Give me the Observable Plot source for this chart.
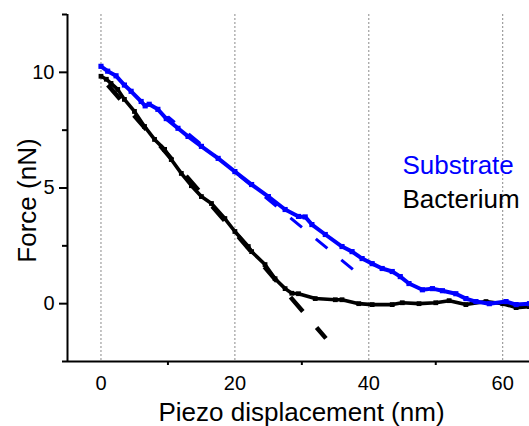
<!DOCTYPE html>
<html>
<head>
<meta charset="utf-8">
<script src="https://cdn.jsdelivr.net/npm/d3@7"></script>
<script src="https://cdn.jsdelivr.net/npm/@observablehq/plot@0.6"></script>
<style>
  html, body { margin: 0; padding: 0; background: #fff; }
  svg { display: block; }
</style>
</head>
<body>
<div id="chart"></div>
<script>
// Substrate (blue) force curve
const substrateX = [0, 1, 2.25, 3.5, 4.5, 6, 6.6, 7.2, 8.5, 9.75, 11.5, 13, 15, 17.5, 20, 22.5, 25, 27.5, 29.5, 30.5, 31.5, 33.5, 36, 37.5, 39, 40.5, 42, 43.5, 44.7, 46, 48, 49.5, 51, 53, 54.5, 56, 58, 60.5, 62, 64];
const substrateY = [10.26, 10.05, 9.85, 9.45, 9.18, 8.74, 8.55, 8.62, 8.4, 8.0, 7.58, 7.23, 6.8, 6.28, 5.71, 5.15, 4.63, 4.07, 3.77, 3.75, 3.42, 2.99, 2.47, 2.25, 1.95, 1.73, 1.52, 1.39, 1.17, 0.87, 0.6, 0.65, 0.56, 0.43, 0.22, 0.09, 0.0, 0.09, -0.04, 0.0];

// Bacterium (black) force curve
const bacteriumX = [0, 0.8, 1.5, 2.5, 3.5, 5, 6.5, 8, 9.5, 10.5, 12, 13.5, 15, 16.5, 18.5, 20, 22, 22.5, 24.5, 26, 27.5, 28.5, 29.5, 32, 35, 36, 38.5, 40.5, 43.5, 45, 47.5, 50, 52, 54.5, 57.5, 60, 62, 64];
const bacteriumY = [9.83, 9.7, 9.52, 9.26, 8.83, 8.31, 7.66, 7.1, 6.67, 6.23, 5.63, 5.1, 4.63, 4.33, 3.68, 3.12, 2.47, 2.25, 1.69, 1.08, 0.65, 0.45, 0.43, 0.22, 0.17, 0.17, 0.0, -0.04, -0.04, 0.04, 0.0, 0.04, 0.13, -0.04, 0.09, 0.0, -0.17, -0.13];

// Linear fits (dashed), end points
const substrateFitX = [10, 37.7];
const substrateFitY = [8.08, 1.46];
const bacteriumFitX = [0, 33.6];
const bacteriumFitY = [9.8, -1.5];

// Axes
const xMajorTicks = [0, 20, 40, 60];
const xMinorTicks = [10, 30, 50];
const yMajorTicks = [0, 5, 10];
const yMinorTicks = [-2.5, 2.5, 7.5, 12.5];
const xDomain = [-5, 64];
const yDomain = [-2.5, 12.5];

const xLabel = "Piezo displacement (nm)";
const yLabel = "Force (nN)";
const seriesNames = ["Substrate", "Bacterium"];
const seriesColors = ["#0000ff", "#000000"];

const toRows = (xs, ys) => xs.map((x, i) => ({x, y: ys[i]}));
const substrate = toRows(substrateX, substrateY);
const bacterium = toRows(bacteriumX, bacteriumY);
const substrateFit = toRows(substrateFitX, substrateFitY);
const bacteriumFit = toRows(bacteriumFitX, bacteriumFitY);

const chart = Plot.plot({
  width: 529,
  height: 426,
  marginLeft: 67,
  marginRight: 0,
  marginTop: 14,
  marginBottom: 65,
  x: {domain: xDomain},
  y: {domain: yDomain},
  style: {fontFamily: "'Liberation Sans', Arial, sans-serif", background: "#fff", color: "#000"},
  marks: [
    Plot.ruleX(xMajorTicks, {stroke: "#8a8a8a", strokeWidth: 1, strokeDasharray: "2,2"}),
    Plot.axisY(yMajorTicks, {tickSize: 8, tickPadding: 5, fontSize: 20, label: null, strokeWidth: 2, strokeOpacity: 1}),
    Plot.axisY(yMinorTicks, {tickSize: 5, tickFormat: () => "", label: null, strokeWidth: 2, strokeOpacity: 1}),
    Plot.axisX(xMajorTicks, {tickSize: 0, tickPadding: 14, fontSize: 20, label: null}),
    Plot.axisX(xMinorTicks, {tickSize: 4, tickFormat: () => "", label: null, strokeWidth: 2, strokeOpacity: 1}),
    Plot.ruleX([xDomain[0]], {stroke: "#000", strokeWidth: 2}),
    Plot.ruleY([yDomain[0]], {stroke: "#000", strokeWidth: 2}),
    // fits
    Plot.line(substrateFit, {x: "x", y: "y", stroke: seriesColors[0], strokeWidth: 3, strokeDasharray: "15,18", strokeDashoffset: 6.2, strokeLinecap: "butt"}),
    Plot.line(bacteriumFit, {x: "x", y: "y", stroke: seriesColors[1], strokeWidth: 4.5, strokeDasharray: "19,21", strokeDashoffset: 29.5, strokeLinecap: "butt"}),
    // data
    Plot.line(bacterium, {x: "x", y: "y", stroke: seriesColors[1], strokeWidth: 3.6}),
    Plot.dot(bacterium, {x: "x", y: "y", symbol: "square", r: 2.7, fill: seriesColors[1], stroke: "none"}),
    Plot.line(substrate, {x: "x", y: "y", stroke: seriesColors[0], strokeWidth: 4}),
    Plot.dot(substrate, {x: "x", y: "y", symbol: "square", r: 2.9, fill: seriesColors[0], stroke: "none"}),
    // legend
    Plot.text([seriesNames[0]], {text: d => d, frameAnchor: "top-left", dx: 335, dy: 151, textAnchor: "start", lineAnchor: "middle", fontSize: 26, fill: seriesColors[0]}),
    Plot.text([seriesNames[1]], {text: d => d, frameAnchor: "top-left", dx: 335, dy: 185, textAnchor: "start", lineAnchor: "middle", fontSize: 26, fill: seriesColors[1]}),
    // axis titles
    Plot.text([xLabel], {text: d => d, frameAnchor: "bottom", dx: 3, dy: 51, textAnchor: "middle", lineAnchor: "middle", fontSize: 26, fill: "#000"}),
    Plot.text([yLabel], {text: d => d, frameAnchor: "left", rotate: -90, dx: -40, dy: 12.5, textAnchor: "middle", lineAnchor: "middle", fontSize: 26, fill: "#000"})
  ]
});
document.getElementById("chart").appendChild(chart);
</script>
</body>
</html>
